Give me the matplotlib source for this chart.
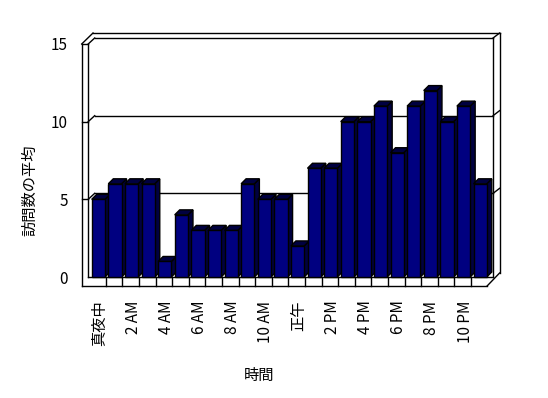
import matplotlib
matplotlib.use("Agg")
import matplotlib.pyplot as plt
from matplotlib.patches import Polygon
from matplotlib.transforms import offset_copy, IdentityTransform

plt.rcParams['font.family'] = ['Noto Sans CJK JP', 'DejaVu Sans']

# average visits per hour (24 hours, midnight first)
visits = [5, 6, 6, 6, 1, 4, 3, 3, 3, 6, 5, 5, 2, 7, 7, 10, 10, 11, 8, 11, 12, 10, 11, 6]
hour_labels = ['真夜中', '', '2 AM', '', '4 AM', '', '6 AM', '', '8 AM', '', '10 AM', '',
               '正午', '', '2 PM', '', '4 PM', '', '6 PM', '', '8 PM', '', '10 PM', '']
y_ticks = [0, 5, 10, 15]
y_title = '訪問数の平均'
x_title = '時間'

W, H = 548, 398
fig = plt.figure(figsize=(W / 100, H / 100), dpi=100)
ax = fig.add_axes([91.7 / W, 1 - 277 / H, (490.1 - 91.7) / W, (277 - 44) / H])
n = len(visits)
x0, x1 = -0.5, n - 0.5
ax.set_xlim(x0, x1)
ax.set_ylim(0, 15)
ax.patch.set_visible(False)
for s in ax.spines.values():
    s.set_visible(False)
ax.set_xticks(range(n))
ax.set_xticklabels(hour_labels, rotation=90, va='top', fontsize=11)
ax.set_yticks(y_ticks)
ax.set_yticklabels([str(t) for t in y_ticks], fontsize=11)
ax.tick_params(axis='y', length=0, pad=17)
ax.tick_params(axis='x', length=0, pad=17)


def off(dx, dy):
    return offset_copy(ax.transData, fig=fig, x=dx, y=dy, units='dots')


def seg(xa, ya, oa, xb, yb, ob):
    # line from data point a (+pixel offset) to data point b (+pixel offset)
    pa = off(*oa).transform((xa, ya))
    pb = off(*ob).transform((xb, yb))
    ax.add_line(plt.Line2D([pa[0], pb[0]], [pa[1], pb[1]], transform=IdentityTransform(),
                           color='black', lw=1, zorder=1, clip_on=False))


# walls and floor
top = y_ticks[-1]
seg(x0, top, (-10, 0), x0, 0, (-10, -9))
seg(x0, top, (-3.5, 0), x0, 0, (-3.5, 0))
seg(x0, top, (-10, 0), x0, top, (1.3, 11))
seg(x0, top, (1.3, 11), x1, top, (9.5, 11))
seg(x1, top, (9.5, 11), x1, 0, (9.5, 4))
seg(x1, top, (3, 6), x1, 0, (3, 0))
seg(x1, 0, (9.5, 4), x1, 0, (-3, -9))
seg(x0, 0, (-10, -9), x1, 0, (-3, -9))
seg(x0, 0, (-3.5, 0), x1, 0, (3, 0))
for v in y_ticks[1:]:
    seg(x0, v, (-10, 0), x0, v, (-3.5, 0))
    seg(x0, v, (-3.5, 0), x0, v, (3, 6))
    seg(x0, v, (3, 6), x1, v, (3, 6))
    seg(x1, v, (3, 6), x1, v, (9.5, 11))
for i in range(n - 1):
    seg(i + 0.5, 0, (-2.5, 0), i + 0.5, 0, (-2.5, -9))

# 3D-looking bars
p0 = ax.transData.transform((0, 0))
p1 = ax.transData.transform((1, 1))
ddx = 5 / (p1[0] - p0[0])
ddy = 5 / (p1[1] - p0[1])
w = 0.8
front_c = '#000080'
shade_c = '#000040'
for i, v in enumerate(visits):
    xl = i - 0.5
    xr = xl + w
    z = 3 + i * 0.01
    side = Polygon([(xr, 0), (xr + ddx, ddy), (xr + ddx, v + ddy), (xr, v)], closed=True,
                   facecolor=shade_c, edgecolor='black', lw=1, zorder=z, clip_on=False)
    topf = Polygon([(xl, v), (xr, v), (xr + ddx, v + ddy), (xl + ddx, v + ddy)], closed=True,
                   facecolor=shade_c, edgecolor='black', lw=1, zorder=z, clip_on=False)
    ax.add_patch(side)
    ax.add_patch(topf)
    ax.bar(xl, v, width=w, align='edge', color=front_c, edgecolor='black', lw=1,
           zorder=z + 0.001, clip_on=False)

fig.text(30 / W, 1 - 190 / H, y_title, rotation=90, ha='center', va='center', fontsize=11)
fig.text(259 / W, 1 - 375 / H, x_title, ha='center', va='center', fontsize=11)

fig.savefig('out.png', dpi=100)
